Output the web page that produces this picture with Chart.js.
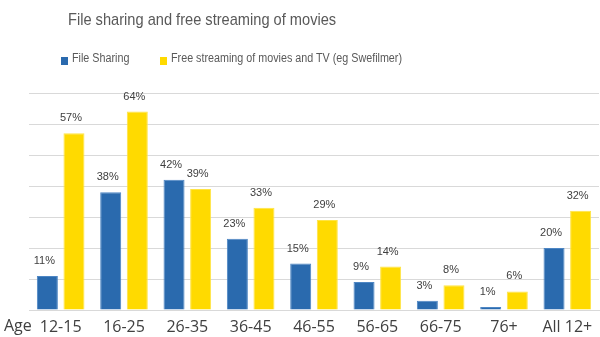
<!DOCTYPE html>
<html>
<head>
<meta charset="utf-8">
<script src="https://cdn.jsdelivr.net/npm/chart.js@4.4.1/dist/chart.umd.min.js"></script>
<style>
    html, body { margin: 0; padding: 0; background: #fff; }
    #wrap { position: relative; width: 600px; height: 337px; overflow: hidden; }
    #chart { position: absolute; left: 0; top: 0; }
    .title {
        position: absolute; left: 68px; top: 10px;
        font: 17px 'Liberation Sans', Arial, sans-serif; color: #595959;
        transform: scaleX(0.86); transform-origin: left top; white-space: nowrap;
    }
    .legend-item {
        position: absolute; top: 51px;
        font: 12.5px 'Liberation Sans', Arial, sans-serif; color: #595959;
        transform: scaleX(0.86); transform-origin: left top; white-space: nowrap;
    }
    .swatch { position: absolute; width: 7px; height: 8px; top: 57px; }
</style>
</head>
<body>
<div id="wrap">
    <canvas id="chart" width="600" height="337"></canvas>
    <div class="title">File sharing and free streaming of movies</div>
    <div class="swatch" style="left:61px; background:#2a6aae;"></div>
    <div class="legend-item" style="left:72px;">File Sharing</div>
    <div class="swatch" style="left:160px; background:#ffda00;"></div>
    <div class="legend-item" style="left:171px;">Free streaming of movies and TV (eg Swefilmer)</div>
</div>
<script>
// Age groups and shares (%)
const ageGroups = ['12-15', '16-25', '26-35', '36-45', '46-55', '56-65', '66-75', '76+', 'All 12+'];
const fileSharing = [11, 38, 42, 23, 15, 9, 3, 1, 20];
const freeStreaming = [57, 64, 39, 33, 29, 14, 8, 6, 32];

const labelFont = "16px 'Open Sans', sans-serif";

// value labels above each bar + "Age" prefix on the category axis
const barLabels = {
    id: 'barLabels',
    afterDatasetsDraw(chart) {
        const ctx = chart.ctx;
        ctx.save();
        ctx.fillStyle = '#404040';
        ctx.font = "11px 'Liberation Sans', Arial, sans-serif";
        ctx.textAlign = 'center';
        ctx.textBaseline = 'alphabetic';
        chart.data.datasets.forEach((ds, i) => {
            chart.getDatasetMeta(i).data.forEach((bar, j) => {
                ctx.fillText(ds.data[j] + '%', bar.x - 3, bar.y - 12);
            });
        });

        ctx.font = labelFont;
        ctx.textAlign = 'left';
        ctx.fillText('Age', 4, 331);
        ctx.restore();
    }
};

new Chart(document.getElementById('chart'), {
    type: 'bar',
    data: {
        labels: ageGroups,
        datasets: [{
            label: 'File Sharing',
            data: fileSharing,
            backgroundColor: '#2a6aae',
            borderColor: '#4d86c4',
            borderWidth: 1
        }, {
            label: 'Free streaming of movies and TV (eg Swefilmer)',
            data: freeStreaming,
            backgroundColor: '#ffda00',
            borderColor: '#ffe444',
            borderWidth: 1
        }]
    },
    options: {
        responsive: false,
        animation: false,
        layout: { padding: { top: 93, right: 1, left: 0, bottom: 0 } },
        datasets: {
            bar: { categoryPercentage: 0.84, barPercentage: 0.79 }
        },
        plugins: {
            legend: { display: false },
            title: { display: false },
            tooltip: { enabled: false }
        },
        scales: {
            x: {
                grid: { display: false },
                border: { display: true, color: '#d9d9d9' },
                ticks: { color: '#404040', font: { family: "'Open Sans', sans-serif", size: 16 }, padding: 0 },
                afterFit: s => { s.height = 27; }
            },
            y: {
                min: 0,
                max: 70,
                ticks: { display: false, stepSize: 10 },
                border: { display: false },
                grid: { color: '#d9d9d9', drawTicks: false },
                afterFit: s => { s.width = 29; }
            }
        }
    },
    plugins: [barLabels]
});
</script>
</body>
</html>
